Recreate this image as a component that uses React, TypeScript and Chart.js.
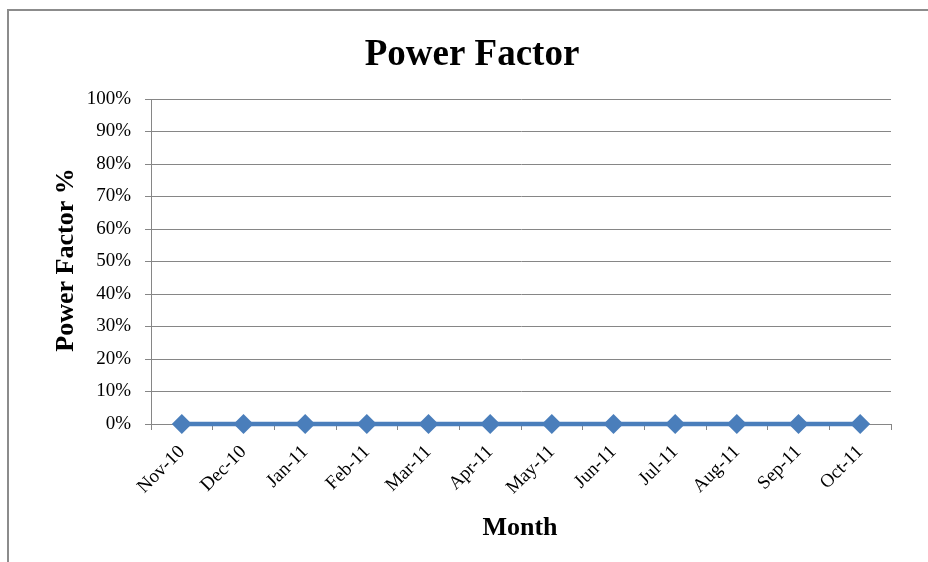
import React, { useEffect, useRef } from "react";
import { Chart, registerables } from "chart.js";

Chart.register(...registerables);

const months = ["Nov-10", "Dec-10", "Jan-11", "Feb-11", "Mar-11", "Apr-11", "May-11", "Jun-11", "Jul-11", "Aug-11", "Sep-11", "Oct-11"];
const powerFactor = [0, 0, 0, 0, 0, 0, 0, 0, 0, 0, 0, 0];
const chartTitle = "Power Factor";
const yAxisTitle = "Power Factor %";
const xAxisTitle = "Month";

const FONT = "'Liberation Serif', 'Times New Roman', serif";
const GRID = "#868686";
const BLUE = "#4a7ebb";

const textPlugin = {
  id: "customText",
  afterDraw(chart: any) {
    const ctx = chart.ctx;
    ctx.save();
    ctx.fillStyle = "#000";
    ctx.textAlign = "center";
    ctx.textBaseline = "alphabetic";
    ctx.font = `bold 37px ${FONT}`;
    ctx.fillText(chartTitle, 472, 65);
    ctx.font = `bold 26px ${FONT}`;
    ctx.fillText(xAxisTitle, 520, 535);
    ctx.translate(73, 260);
    ctx.rotate(-Math.PI / 2);
    ctx.fillText(yAxisTitle, 0, 0);
    ctx.restore();
  },
};

export default function App() {
  const ref = useRef<HTMLCanvasElement>(null);
  useEffect(() => {
    if (!ref.current) return;
    const chart = new Chart(ref.current, {
      type: "line",
      data: {
        labels: months,
        datasets: [
          {
            data: powerFactor,
            borderColor: BLUE,
            backgroundColor: BLUE,
            borderWidth: 4.5,
            pointStyle: "rectRot",
            pointRadius: 10,
            pointBorderWidth: 0,
            pointBackgroundColor: BLUE,
            clip: false as any,
          },
        ],
      },
      options: {
        animation: false,
        responsive: false,
        devicePixelRatio: 1,
        layout: { padding: { top: 99, right: 37, bottom: 0, left: 0 } },
        plugins: {
          legend: { display: false },
          title: { display: false },
          tooltip: { enabled: false },
        },
        scales: {
          x: {
            type: "category",
            offset: true,
            afterFit(scale: any) {
              scale.height = 138;
            },
            grid: {
              offset: true,
              drawOnChartArea: false,
              drawTicks: true,
              tickLength: 6,
              color: GRID,
            },
            border: { color: GRID, width: 1 },
            ticks: {
              minRotation: 45,
              maxRotation: 45,
              autoSkip: false,
              padding: 11,
              color: "#000",
              font: { family: FONT, size: 19 },
            },
          },
          y: {
            min: 0,
            max: 1,
            afterFit(scale: any) {
              scale.width = 151;
            },
            grid: { color: GRID, tickLength: 6, drawTicks: true },
            border: { color: GRID, width: 1 },
            ticks: {
              stepSize: 0.1,
              padding: 14,
              color: "#000",
              font: { family: FONT, size: 19 },
              callback: (v: any) => Math.round(Number(v) * 100) + "%",
            },
          },
        },
      },
      plugins: [textPlugin],
    });
    return () => chart.destroy();
  }, []);

  return (
    <div style={{ position: "fixed", left: 0, top: 0, width: 928, height: 562, overflow: "hidden", background: "#fff" }}>
      <div
        style={{
          position: "absolute",
          left: 7,
          top: 9,
          width: 1200,
          height: 1200,
          borderTop: "2px solid #8c8c8c",
          borderLeft: "2px solid #8c8c8c",
        }}
      />
      <canvas ref={ref} width={928} height={562} style={{ position: "absolute", left: 0, top: 0, width: 928, height: 562 }} />
    </div>
  );
}
